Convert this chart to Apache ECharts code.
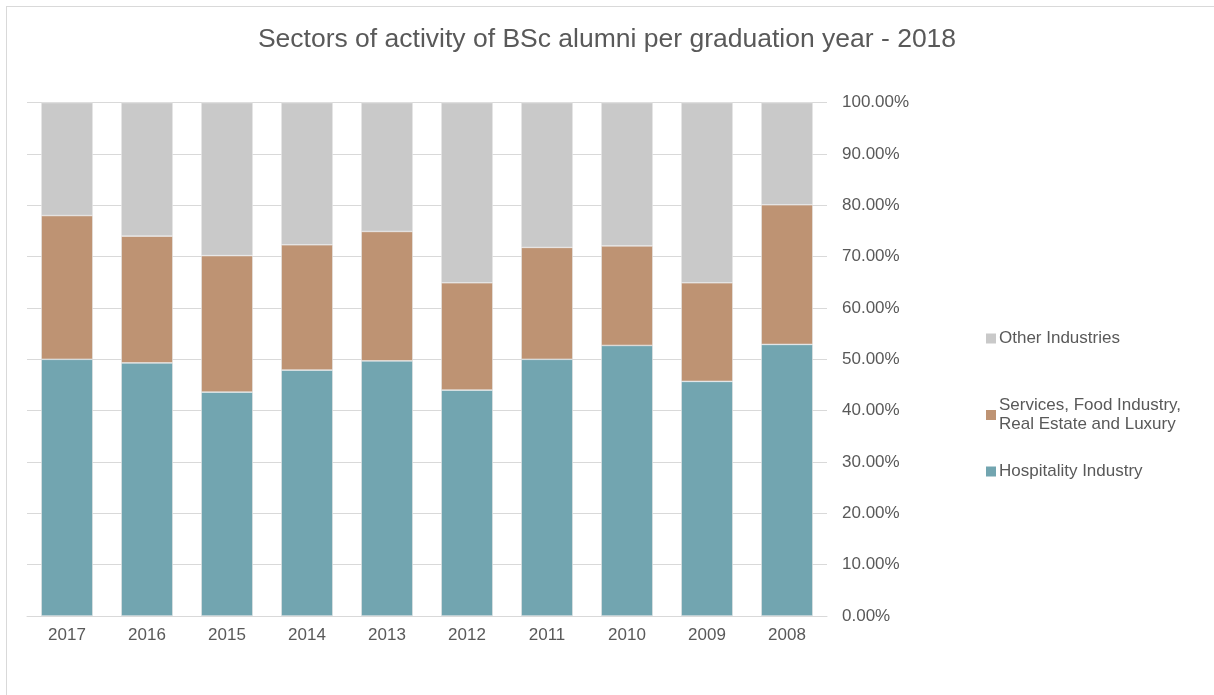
<!DOCTYPE html>
<html>
<head>
<meta charset="utf-8">
<script src="https://cdn.jsdelivr.net/npm/echarts@6/dist/echarts.min.js"></script>
<style>
  html, body { margin: 0; padding: 0; background: #fff; }
  #frame {
    position: absolute; left: 6px; top: 6px; width: 1220px; height: 700px;
    border: 1px solid #d9d9d9; box-sizing: border-box;
  }
  #chart { position: absolute; left: 0; top: 0; width: 1214px; height: 695px; }
</style>
</head>
<body>
<div id="frame"></div>
<div id="chart"></div>
<script>
var years = ['2017', '2016', '2015', '2014', '2013', '2012', '2011', '2010', '2009', '2008'];
var hospitality = [50.0, 49.3, 43.6, 47.9, 49.7, 44.0, 50.0, 52.7, 45.7, 52.9];
var services = [28.0, 24.7, 26.6, 24.4, 25.2, 20.9, 21.8, 19.4, 19.2, 27.2];
var other = [22.0, 26.0, 29.8, 27.7, 25.1, 35.1, 28.2, 27.9, 35.1, 19.9];

var textColor = '#595959';
var font = 'Liberation Sans, Arial, sans-serif';

function legendBox(name, top) {
  return {
    data: [name],
    orient: 'vertical',
    left: 981,
    top: top,
    itemWidth: 10,
    itemHeight: 10,
    icon: 'rect',
    itemStyle: {borderWidth: 0},
    textStyle: {color: textColor, fontSize: 17, lineHeight: 19, fontFamily: font, padding: [0, 0, 0, -2]}
  };
}

var chart = echarts.init(document.getElementById('chart'));
var option = {
  animation: false,
  title: {
    text: 'Sectors of activity of BSc alumni per graduation year - 2018',
    left: 'center',
    top: 21,
    textStyle: {
      color: textColor,
      fontSize: 26.5,
      fontWeight: 'normal',
      fontFamily: font
    }
  },
  legend: [
    legendBox('Other Industries', 324),
    legendBox('Services, Food Industry,\nReal Estate and Luxury', 391),
    legendBox('Hospitality Industry', 457)
  ],
  grid: {
    left: 27,
    right: 387,
    top: 102.6,
    bottom: 79,
    containLabel: false
  },
  xAxis: {
    type: 'category',
    data: years,
    axisLine: {lineStyle: {color: '#d9d9d9', width: 1}},
    axisTick: {show: false},
    axisLabel: {color: textColor, fontSize: 17, fontFamily: font, margin: 11}
  },
  yAxis: {
    type: 'value',
    position: 'right',
    min: 0,
    max: 100,
    interval: 10,
    axisLine: {show: false},
    axisTick: {show: false},
    splitLine: {lineStyle: {color: '#d9d9d9', width: 1}},
    axisLabel: {
      color: textColor,
      fontSize: 17,
      fontFamily: font,
      margin: 15,
      formatter: function (v) { return v.toFixed(2) + '%'; }
    }
  },
  series: [
    {
      name: 'Hospitality Industry',
      type: 'bar',
      stack: 'total',
      barCategoryGap: '35.5%',
      data: hospitality,
      itemStyle: {color: '#72a5b0', borderColor: '#e6e6e6', borderWidth: 0.6}
    },
    {
      name: 'Services, Food Industry,\nReal Estate and Luxury',
      type: 'bar',
      stack: 'total',
      data: services,
      itemStyle: {color: '#be9373', borderColor: '#e6e6e6', borderWidth: 0.6}
    },
    {
      name: 'Other Industries',
      type: 'bar',
      stack: 'total',
      data: other,
      itemStyle: {color: '#c9c9c9', borderColor: '#e6e6e6', borderWidth: 0.6}
    }
  ]
};
chart.setOption(option);
</script>
</body>
</html>
